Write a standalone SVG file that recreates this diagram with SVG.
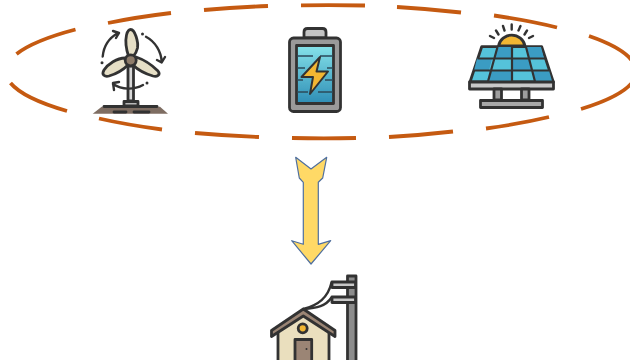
<svg xmlns="http://www.w3.org/2000/svg" width="630" height="360" viewBox="0 0 630 360">
<defs>
<style>
.dash{fill:none;stroke:#C55A11;stroke-width:3.8}
.k{stroke:#333;stroke-width:2.8;stroke-linejoin:round;stroke-linecap:round}
.l{fill:none;stroke:#333;stroke-width:2.400;stroke-linecap:round;stroke-linejoin:round}
.t{fill:none;stroke:#2b4a5a;stroke-width:1.500}
</style>
<linearGradient id="batt" x1="0" y1="0" x2="0" y2="1"><stop offset="0" stop-color="#86E3EA"/><stop offset="1" stop-color="#2E8DB5"/></linearGradient>
<filter id="soft" x="-5%" y="-5%" width="110%" height="110%"><feGaussianBlur stdDeviation="0.5"/></filter>
</defs>
<rect width="630" height="360" fill="#fff"/>
<g id="connectors">
<g id="ring">
<path class="dash" d="M108 23A316 67 0 0 1 171 13"/>
<path class="dash" d="M204 10A316 67 0 0 1 268 6"/>
<path class="dash" d="M301 5.300A316 67 0 0 1 365 5.500"/>
<path class="dash" d="M397 7A316 67 0 0 1 461 12.500"/>
<path class="dash" d="M494 15.500A316 67 0 0 1 557 27.500"/>
<path class="dash" d="M589 36A316 67 0 0 1 634 64"/>
<path class="dash" d="M634 80A316 67 0 0 1 581 109"/>
<path class="dash" d="M549 117A316 67 0 0 1 486 128.500"/>
<path class="dash" d="M453 131.500A316 67 0 0 1 389 137"/>
<path class="dash" d="M356 138A316 67 0 0 1 292 138"/>
<path class="dash" d="M259 137A316 67 0 0 1 195 133"/>
<path class="dash" d="M162 129.500A316 67 0 0 1 99 118.500"/>
<path class="dash" d="M67 111A316 67 0 0 1 10.500 83"/>
<path class="dash" d="M16.500 54A316 67 0 0 1 75.500 29.500"/>
</g>
<path id="arrow" d="M295.700 157.300L311 169L326.700 157.300L322.700 178L318.300 182.300V244.300L330.700 240.700L311 264L291.700 240.700L303.300 244.300V182.300L299.300 178Z" fill="#FFD966" stroke="#4F6F9F" stroke-width="1.200" stroke-linejoin="round"/>
</g>
<g id="wind-turbine" filter="url(#soft)">
<path d="M101.700 106.700H160L168 113.700H92.700Z" fill="#7E6D62"/>
<path class="k" fill="none" d="M104 106.500H157"/>
<path class="k" fill="none" d="M114 112H126M134 112H149" />
<rect x="124" y="101.500" width="14" height="4.500" fill="#B9B9B9" class="k"/>
<rect x="128" y="66" width="5.500" height="35" fill="#D8D8D8" class="k"/>
<path class="k" fill="#E6DFC6" d="M130.700 29.500C135 29.500 138.500 42 137.500 48C136.500 52 134.500 55 133.500 56H128.500C126.500 50 125 42 126.500 35C127.500 31 129 29.500 130.700 29.500Z"/>
<path class="k" fill="#E6DFC6" d="M125 58C117 58 108 64 104 70C101 75 105 77 109 76C116 74 123 70 128 65Z"/>
<path class="k" fill="#E6DFC6" d="M136 57C145 60 153 66 158 71C161 75 157 77 153 76C146 74 139 71 133 65Z"/>
<circle cx="130.700" cy="60.300" r="5.500" fill="#8E7B6B" class="k"/>
<path class="l" d="M102.700 56.500A30 30 0 0 1 118 33M113 31L119 33L116 38"/>
<path class="l" d="M146 36.700A30 30 0 0 1 161.700 62M157 60L161.700 62.500L165 57"/>
<path class="l" d="M143 85C134 90 122 90 113 84M114 90L113 83L119 82"/>
<circle cx="102" cy="62.700" r="1.500" fill="#333"/>
<circle cx="142.500" cy="34" r="1.500" fill="#333"/>
<circle cx="147" cy="83" r="1.500" fill="#333"/>
</g>
<g id="battery" filter="url(#soft)">
<path class="k" fill="#C4C4C4" d="M304 38V32Q304 28.500 307.500 28.500H322.500Q326 28.500 326 32V38Z"/>
<rect x="289.500" y="38" width="51" height="73.500" rx="4" fill="#9A9A9A" class="k"/>
<rect x="296.500" y="45.500" width="37" height="58" fill="url(#batt)" class="k"/>
<path class="t" d="M297 56H313M320 56H333M297 68H305M327 68H333M297 80H303M325 80H333M297 92H308M318 92H333"/>
<path fill="#F2B632" stroke="#333" stroke-width="2" stroke-linejoin="round" d="M320 57L301.500 77H313L310 94L328 71.500H316.500Z"/>
</g>
<g id="solar-panel" filter="url(#soft)">
<path class="l" d="M511.700 24.500V29.500M503 26L504.500 30.500M496 30.500L498.500 34.500M490 36L494 38M520.500 26L518.500 30.500M527 30.500L524.500 34.500M533 36L529 38"/>
<path class="k" fill="#F2B632" d="M498.500 46A13.500 13.500 0 0 1 525 46Z"/>
<path class="k" fill="#55C3DA" d="M481.700 46.700H541.700L553.300 82H470Z"/>
<path fill="#3A9CC3" d="M497.500 47H512V58.500H494ZM526 47H541L544 58.500H529ZM477 58.500H492L489 70.500H474ZM511 58.500H530L532 70.500H511ZM490 70.500H511V81H487ZM532 70.500H549L552 81H534Z"/>
<path fill="none" stroke="#333" stroke-width="2.200" d="M477.500 58.500H545.500M474 70.500H549.500M497.500 47L488 81.500M512 47V81.500M526 47L535 81.500"/>
<rect x="469.500" y="82" width="84" height="7" fill="#C8C8C8" class="k"/>
<rect x="494" y="89" width="7.500" height="11" fill="#9E9E9E" class="k"/>
<rect x="521.500" y="89" width="7.500" height="11" fill="#9E9E9E" class="k"/>
<rect x="480.500" y="100.500" width="62" height="7" fill="#A8A8A8" class="k"/>
</g>
<g id="house" filter="url(#soft)">
<rect x="347.500" y="276" width="8.500" height="88" fill="#8C8C8C" class="k"/>
<rect x="332" y="282" width="23.500" height="5.500" fill="#C8C8C8" class="k"/>
<rect x="332" y="297" width="23.500" height="5.500" fill="#C8C8C8" class="k"/>
<path class="l" d="M303.500 309C318 305 328 298 331.500 282.500M303.500 309C317 308 326 306 331.500 297.500"/>
<path class="k" fill="#EADFBE" d="M278 330L303.300 312L329 330V362H278Z"/>
<path class="k" fill="#9B8574" d="M303.300 309L335 330.500V336.500L303.300 316L271.500 336.500V330.500Z"/>
<circle cx="302.700" cy="328.300" r="4.500" fill="#F2B632" class="k"/>
<rect x="295" y="339.500" width="16.700" height="23" fill="#9B8574" class="k"/>
<circle cx="306.500" cy="349" r="1" fill="#333"/>
</g>
</svg>
